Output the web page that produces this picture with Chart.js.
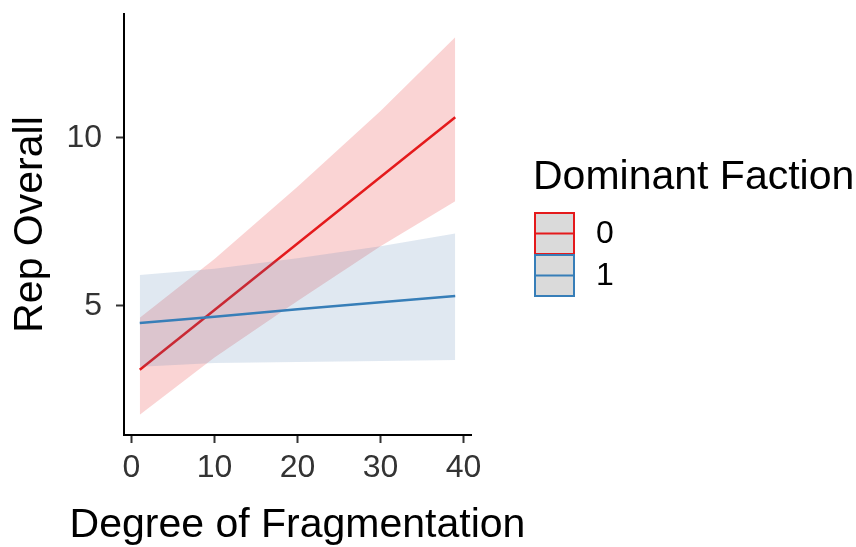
<!DOCTYPE html>
<html><head><meta charset="utf-8">
<script src="https://cdn.jsdelivr.net/npm/chart.js@4"></script>
<style>html,body{margin:0;padding:0;background:#fff}#c{display:block}</style>
</head><body>
<canvas id="c" width="856" height="547"></canvas>
<script>
// ---- data ----
const groups = ['0', '1'];
const xValues = [1, 10, 20, 30, 39];
const fit0   = [3.10, 4.88, 6.86, 8.84, 10.62];
const upper0 = [4.65, 6.40, 8.55, 10.80, 13.00];
const lower0 = [1.76, 3.47, 5.15, 6.78, 8.12];
const fit1   = [4.49, 4.68, 4.90, 5.11, 5.30];
const upper1 = [5.92, 6.11, 6.42, 6.78, 7.16];
const lower1 = [3.19, 3.30, 3.33, 3.36, 3.39];
const xTicks = [0, 10, 20, 30, 40];
const yTicks = [5, 10];
const xTitle = 'Degree of Fragmentation';
const yTitle = 'Rep Overall';
const legendTitle = 'Dominant Faction';

const colors = ['#E41A1C', '#377EB8'];
const bands = ['rgba(228,26,28,0.19)', 'rgba(70,120,170,0.17)'];
const FONT = '"Liberation Sans", Arial, sans-serif';

const pts = arr => xValues.map((x, i) => ({x: x, y: arr[i]}));

// index order: top-most first (Chart.js draws last index first)
const bandOpts = {borderWidth: 0, pointRadius: 0};
const datasets = [
  {label: groups[1], group: 1, isFit: true, data: pts(fit1), borderColor: colors[1], borderWidth: 2.5, pointRadius: 0, fill: false},
  Object.assign({label: 'lo1', data: pts(lower1), fill: false}, bandOpts),
  Object.assign({label: 'up1', data: pts(upper1), fill: 1, backgroundColor: bands[1]}, bandOpts),
  {label: groups[0], group: 0, isFit: true, data: pts(fit0), borderColor: colors[0], borderWidth: 2.5, pointRadius: 0, fill: false},
  Object.assign({label: 'lo0', data: pts(lower0), fill: false}, bandOpts),
  Object.assign({label: 'up0', data: pts(upper0), fill: 4, backgroundColor: bands[0]}, bandOpts)
];

const textPlugin = {
  id: 'ggText',
  afterDraw(chart) {
    const ctx = chart.ctx;
    const area = chart.chartArea;
    ctx.save();
    // x axis title
    ctx.fillStyle = '#000';
    ctx.font = '41px ' + FONT;
    ctx.textAlign = 'center';
    ctx.textBaseline = 'alphabetic';
    ctx.fillText(xTitle, (area.left + area.right) / 2, 537);
    // legend
    ctx.textAlign = 'left';
    ctx.fillText(legendTitle, 533, 189);
    groups.forEach((g, i) => {
      const ds = chart.data.datasets.find(d => d.isFit && d.group === i);
      const x = 535, y = 213 + i * 42, w = 39, h = 41;
      ctx.fillStyle = '#dadada';
      ctx.fillRect(x, y, w, h);
      ctx.strokeStyle = ds.borderColor;
      ctx.lineWidth = 2;
      ctx.strokeRect(x, y, w, h);
      ctx.beginPath();
      ctx.moveTo(x, y + h / 2);
      ctx.lineTo(x + w, y + h / 2);
      ctx.stroke();
      ctx.fillStyle = '#000';
      ctx.font = '32px ' + FONT;
      ctx.textBaseline = 'middle';
      ctx.fillText(ds.label, 596, y + h / 2 + 1);
    });
    ctx.restore();
  }
};

new Chart(document.getElementById('c'), {
  type: 'line',
  data: {datasets: datasets},
  plugins: [textPlugin],
  options: {
    responsive: false,
    animation: false,
    devicePixelRatio: 1,
    layout: {padding: {left: 0, right: 385, top: 14, bottom: 0}},
    plugins: {legend: {display: false}, tooltip: {enabled: false}, title: {display: false}},
    elements: {line: {tension: 0}},
    scales: {
      x: {
        type: 'linear', min: -0.9, max: 40.9,
        afterBuildTicks: s => { s.ticks = xTicks.map(v => ({value: v})); },
        afterFit: s => { s.height = 112; s.paddingLeft = 0; s.paddingRight = 0; },
        border: {display: true, color: '#000', width: 2},
        grid: {display: true, drawOnChartArea: false, drawTicks: true, tickLength: 8, tickColor: '#333', tickWidth: 2},
        ticks: {color: '#333', font: {family: FONT, size: 32}, padding: 6, maxRotation: 0, autoSkip: false},
        title: {display: false}
      },
      y: {
        type: 'linear', min: 1.16, max: 13.69,
        afterBuildTicks: s => { s.ticks = yTicks.map(v => ({value: v})); },
        afterFit: s => { s.width = 124; s.paddingTop = 0; s.paddingBottom = 0; },
        border: {display: true, color: '#000', width: 2},
        grid: {display: true, drawOnChartArea: false, drawTicks: true, tickLength: 8, tickColor: '#333', tickWidth: 2},
        ticks: {color: '#333', font: {family: FONT, size: 32}, padding: 14},
        title: {display: true, text: yTitle, color: '#000', font: {family: FONT, size: 41}, padding: {top: 6, bottom: 0}}
      }
    }
  }
});
</script>
</body></html>
